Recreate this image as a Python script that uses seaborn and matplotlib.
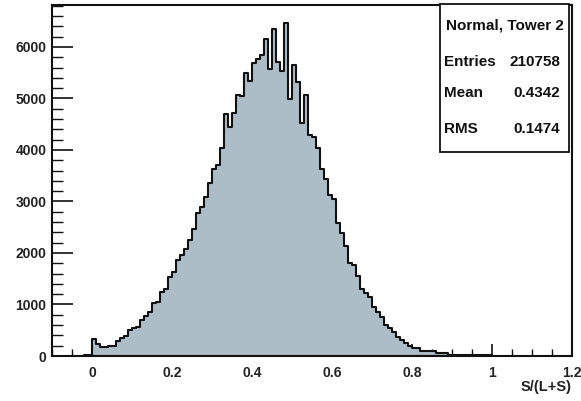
import numpy as np
import pandas as pd
import matplotlib
matplotlib.use("Agg")
import matplotlib.pyplot as plt
import seaborn as sns
from matplotlib.patches import Rectangle
from matplotlib.ticker import MultipleLocator

# ---- data (bin lower edges, width 0.01) ----
bin_width = 0.01
bin_lo = np.round(np.arange(-0.02, 1.0, bin_width), 2)
counts = [
    12, 15,
    324, 233, 181, 180, 194, 200, 298, 350, 388, 505,
    544, 570, 699, 777, 854, 1023, 1055, 1240, 1310, 1535,
    1631, 1864, 1961, 2071, 2252, 2460, 2771, 2900, 3094, 3366,
    3625, 3716, 4034, 4700, 4441, 4720, 5070, 5040, 5500, 5330,
    5696, 5761, 5845, 6150, 5567, 6343, 5716, 5541, 6473, 4985,
    5651, 5327, 4531, 5069, 4292, 4259, 4034, 3631, 3437, 3127,
    3043, 2589, 2395, 2142, 1800, 1773, 1559, 1295, 1230, 1140,
    946, 860, 751, 602, 538, 472, 375, 310, 258, 200,
    165, 150, 105, 103, 100, 90, 55, 52, 50, 22,
    20, 18, 18, 18, 12, 12, 10, 10, 10, 10,
]
stats_title = "Normal, Tower 2"
stats_labels = ["Entries", "Mean", "RMS"]
stats_values = ["210758", "0.4342", "0.1474"]
x_label = "S/(L+S)"

edges = np.round(np.append(bin_lo, bin_lo[-1] + bin_width), 2).tolist()
df = pd.DataFrame({"x": bin_lo + bin_width / 2, "w": counts})

sns.set_style("white")
plt.rcParams["font.family"] = ["Liberation Sans", "DejaVu Sans"]

W, H = 581, 401
fig = plt.figure(figsize=(W / 100, H / 100), dpi=100)
ax = fig.add_axes([52 / W, 45 / H, 520 / W, 351 / H])

sns.histplot(data=df, x="x", weights="w", bins=edges, element="step", fill=True,
             facecolor="#adbdc8", edgecolor="#111111", linewidth=1.5, alpha=1.0,
             ax=ax)

ax.set_xlim(-0.1, 1.2)
ax.set_ylim(0, 6815)
ax.set_xlabel("")
ax.set_ylabel("")

for s in ax.spines.values():
    s.set_linewidth(1.5)
    s.set_color("#111111")

ax.xaxis.set_minor_locator(MultipleLocator(0.05))
ax.yaxis.set_major_locator(MultipleLocator(1000))
ax.yaxis.set_minor_locator(MultipleLocator(200))
ax.set_xticks(np.arange(0, 1.21, 0.2))
ax.set_xticklabels(["0", "0.2", "0.4", "0.6", "0.8", "1", "1.2"])

tl = 10
ax.tick_params(axis="x", which="major", direction="in", length=9, width=1.2,
               pad=7, labelsize=tl, colors="#111111", top=False, bottom=True)
ax.tick_params(axis="x", which="minor", direction="in", length=5, width=1.0,
               top=False, bottom=True, colors="#111111")
ax.tick_params(axis="y", which="major", direction="in", length=15, width=1.2,
               pad=4, labelsize=tl, colors="#111111", left=True, right=False)
ax.tick_params(axis="y", which="minor", direction="in", length=8, width=1.0,
               left=True, right=False, colors="#111111")
for lab in ax.get_xticklabels() + ax.get_yticklabels():
    lab.set_fontweight("bold")
    lab.set_color("#222222")

ax.text(1.0, (401 - 387 - 45) / 351, x_label, transform=ax.transAxes,
        ha="right", va="center", fontsize=10.5, fontweight="bold", color="#222222")

# stats box
bx0, bx1, by0, by1 = 440, 569, 4, 152
fig.patches.append(Rectangle((bx0 / W, 1 - by1 / H), (bx1 - bx0) / W, (by1 - by0) / H,
                             transform=fig.transFigure, facecolor="white",
                             edgecolor="#111111", linewidth=1.3, zorder=5))
fs = 11
fig.text((bx0 + bx1) / 2 / W, 1 - 25 / H, stats_title, ha="center", va="center",
         fontsize=fs, fontweight="bold", color="#111111", zorder=6)
for lab, val, yy in zip(stats_labels, stats_values, [62, 93, 129]):
    fig.text(444 / W, 1 - yy / H, lab, ha="left", va="center", fontsize=fs,
             fontweight="bold", color="#111111", zorder=6)
    fig.text(560 / W, 1 - yy / H, val, ha="right", va="center", fontsize=fs,
             fontweight="bold", color="#111111", zorder=6)

fig.savefig("out.png", dpi=100)
